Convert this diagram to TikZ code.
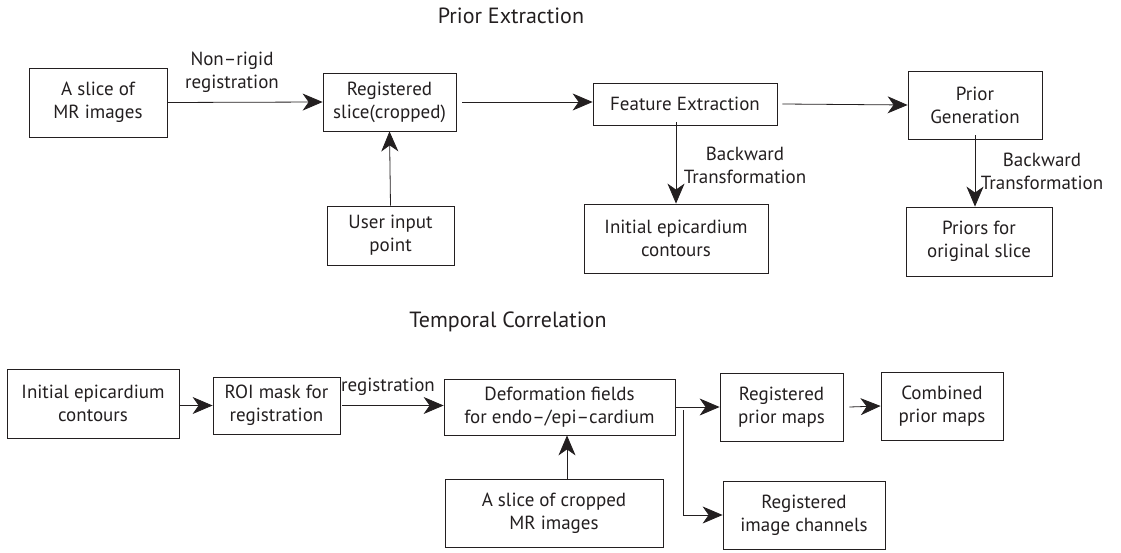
\documentclass[tikz,border=0pt]{standalone}
\usepackage{fontspec}
\setmainfont{PT Sans}
\usetikzlibrary{arrows.meta}

\definecolor{ink}{RGB}{35,31,32}

\tikzset{
  box/.style={draw, align=center, inner sep=1pt},
  lbl/.style={align=center, inner sep=0pt},
  ttl/.style={font=\fontsize{22}{26}\selectfont},
  arr/.style={-{Stealth[length=20pt,width=17pt,inset=6pt]}},
}

\begin{document}
\begin{tikzpicture}[x=1pt,y=-1pt,line width=0.8pt,color=ink,font=\fontsize{19}{23}\selectfont]
\useasboundingbox (0,0) rectangle (1121,553);

% upper chain
\node[ttl] (ttlprior) at (511,16) {Prior Extraction};

\node[box,minimum width=138,minimum height=69] (slice) at (98,102.5) {A slice of\\MR images};
\node[box,minimum width=133,minimum height=58] (regslice) at (389.5,102) {Registered\\slice(cropped)};
\node[box,minimum width=127,minimum height=59] (user) at (390.5,235.5) {User input\\point};
\node[box,minimum width=184,minimum height=42] (feat) at (685,104) {Feature Extraction};
\node[box,minimum width=184,minimum height=69] (initc) at (676,238.5) {Initial epicardium\\contours};
\node[box,minimum width=134,minimum height=68] (priorgen) at (975,105) {Prior\\Generation};
\node[box,minimum width=146,minimum height=69] (priors) at (979,241.5) {Priors for\\original slice};

\node[lbl] (lblnonrigid) at (232,72) {Non--rigid\\registration};
\node[lbl] (lblback) at (745,165) {Backward\\Transformation};
\node[lbl] (lblbacktwo) at (1042,171) {Backward\\Transformation};

\draw[arr] (slice.east) -- (regslice.west);
\draw[arr] (user.north) -- (regslice.south);
\draw[arr] ([xshift=6]regslice.east) -- (regslice.east -| feat.west);
\draw[arr] ([yshift=3]initc.north |- feat.south) -- (initc.north);
\draw[arr] ([xshift=5]feat.east) -- (priorgen.west);
\draw[arr] ([yshift=4]priorgen.south) -- (priorgen.south |- priors.north);

% lower chain
\node[ttl] (ttltemporal) at (508,322) {Temporal Correlation};

\node[box,minimum width=172,minimum height=69] (initb) at (93,403.5) {Initial epicardium\\contours};
\node[box,minimum width=127,minimum height=57] (roi) at (276.5,405.5) {ROI mask for\\registration};
\node[box,minimum width=231,minimum height=56] (deform) at (559.5,407) {Deformation fields\\for endo--/epi--cardium};
\node[box,minimum width=218,minimum height=68] (crop) at (554,513) {A slice of cropped\\MR images};
\node[box,minimum width=123,minimum height=68] (regprior) at (781.5,407) {Registered\\prior maps};
\node[box,minimum width=122,minimum height=68] (comb) at (942,406) {Combined\\prior maps};
\node[box,minimum width=162,minimum height=68] (regimg) at (804,515) {Registered\\image channels};

\node[lbl] (lblreg) at (388,387) {registration};

\coordinate (branch) at (683,410);
\coordinate (cropin) at (567,0);

\draw[arr] (initb.east |- roi.west) -- (roi.west);
\draw[arr] ([xshift=2]roi.east) -- (roi.east -| deform.west);
\draw[arr] (crop.north -| cropin) -- (deform.south -| cropin);
\draw[arr] (deform.east) -- (deform.east -| regprior.west);
\draw[arr] ([xshift=6]regprior.east) -- (comb.west);
\draw[arr] (branch) |- (regimg.west);

\end{tikzpicture}
\end{document}
